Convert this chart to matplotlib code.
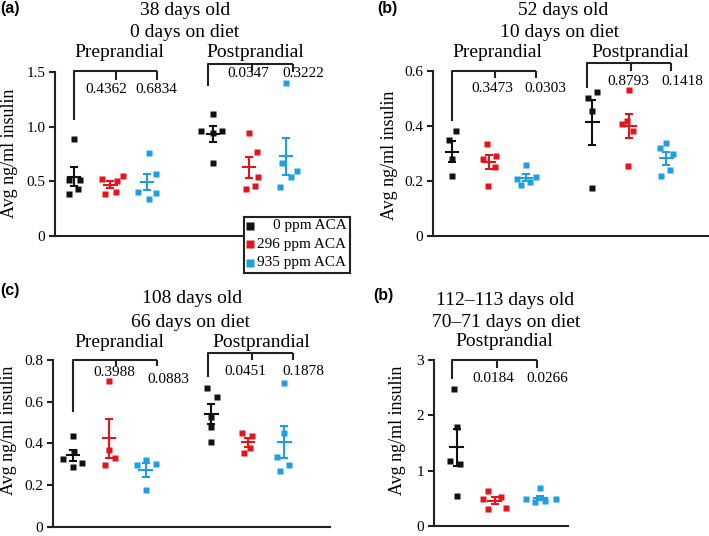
import numpy as np
import matplotlib.pyplot as plt

plt.rcParams['font.family'] = ['Liberation Serif', 'DejaVu Serif']

W, H = 709, 536

groups = ['0 ppm ACA', '296 ppm ACA', '935 ppm ACA']
colors = ['#111111', '#e3141c', '#1e9fe3']

# panel (a): 38 days old, 0 days on diet
a_pre = [[0.89, 0.51, 0.51, 0.43, 0.38],
         [0.52, 0.38, 0.40, 0.50, 0.55],
         [0.405, 0.756, 0.341, 0.396, 0.567]]
a_post = [[0.96, 1.12, 0.67, 0.96, 0.94],
          [0.939, 0.765, 0.543, 0.433, 0.457],
          [1.396, 0.665, 0.591, 0.537, 0.451]]
a_pvals = ['0.4362', '0.6834', '0.0347', '0.3222']

# panel (b): 52 days old, 10 days on diet
b_pre = [[0.349, 0.382, 0.279, 0.219],
         [0.335, 0.292, 0.279, 0.252, 0.182],
         [0.259, 0.207, 0.185, 0.198, 0.213]]
b_post = [[0.503, 0.522, 0.455, 0.173],
          [0.531, 0.407, 0.42, 0.382, 0.256],
          [0.339, 0.321, 0.298, 0.24, 0.218]]
b_pvals = ['0.3473', '0.0303', '0.8793', '0.1418']

# panel (c): 108 days old, 66 days on diet
c_pre = [[0.437, 0.326, 0.288, 0.307, 0.36],
         [0.70, 0.368, 0.331, 0.296],
         [0.32, 0.294, 0.299, 0.176]]
c_post = [[0.664, 0.624, 0.528, 0.48, 0.405],
          [0.451, 0.437, 0.355, 0.376],
          [0.691, 0.448, 0.336, 0.294, 0.269]]
c_pvals = ['0.3988', '0.0883', '0.0451', '0.1878']

# panel (d): 112-113 days old, postprandial only
d_post = [[2.476, 1.783, 1.18, 1.114, 0.542],
          [0.632, 0.482, 0.53, 0.307, 0.33],
          [0.68, 0.482, 0.44, 0.45, 0.482]]
d_pvals = ['0.0184', '0.0266']

# horizontal scatter of the points (x offsets, same order as values)
a_pre_jit = [[0, -0.14, 0.16, 0.12, -0.14], [-0.23, -0.14, 0.16, 0.18, 0.35], [-0.25, 0.05, 0.05, 0.25, 0.26]]
a_post_jit = [[-0.32, 0, 0, 0.26, 0], [0, 0.2, 0.25, -0.1, 0.16], [0, -0.09, 0.3, 0.14, -0.16]]
b_pre_jit = [[-0.09, 0.11, 0, 0], [-0.05, 0.2, -0.15, 0.16, -0.03], [0, -0.24, -0.13, 0.12, 0.27]]
b_post_jit = [[-0.12, 0.12, 0, 0], [0, -0.2, -0.07, 0.09, -0.05], [0, -0.18, 0.18, 0.09, -0.16]]
c_pre_jit = [[0, -0.27, 0, 0.26, 0.04], [0, 0, 0.17, -0.11], [0, -0.25, 0.28, 0]]
c_post_jit = [[-0.11, 0.16, 0, 0, 0], [-0.15, 0.1, -0.11, 0.07], [0, 0, -0.19, 0.13, -0.12]]
d_post_jit = [[-0.06, 0, -0.18, 0.09, 0], [-0.18, -0.31, 0.17, -0.18, 0.3], [0, -0.37, -0.15, 0.13, 0.41]]

INK = '#222222'


def fx(x):
    return x / W


def fy(y):
    return 1 - y / H


def make_axes(left, top, right, bottom, ylim, yticks, yticklabels, xlim):
    ax = fig.add_axes([fx(left), fy(bottom), fx(right - left), (bottom - top) / H])
    ax.set_xlim(xlim)
    ax.set_ylim(ylim)
    for s in ['top', 'right']:
        ax.spines[s].set_visible(False)
    for s in ['left', 'bottom']:
        ax.spines[s].set_linewidth(1.5)
        ax.spines[s].set_color(INK)
    ax.set_xticks([])
    ax.set_yticks(yticks)
    ax.set_yticklabels(yticklabels)
    ax.tick_params(axis='y', length=4, width=1.5, color=INK, labelsize=11, pad=3)
    ax.patch.set_alpha(0)
    return ax


def scatter_groups(ax, data, jit, positions):
    for vals, off, pos, col in zip(data, jit, positions, colors):
        vals = np.array(vals)
        xs = pos + np.array(off)
        ax.plot(xs, vals, 's', ms=4.4, color=col, mec='none', clip_on=False, zorder=3)
        m = vals.mean()
        sem = vals.std(ddof=1) / np.sqrt(len(vals))
        ax.errorbar(pos, m, yerr=sem, fmt='none', ecolor=col, elinewidth=1.5,
                    capsize=2.6, capthick=1.5, zorder=4)
        ax.plot([pos - 0.17, pos + 0.17], [m, m], color=col, lw=1.5, zorder=4)


def bracket(ax, x0, top, low, ticks, tick_low):
    kw = dict(color=INK, lw=1.5, clip_on=False, solid_capstyle='butt')
    ax.plot([x0, x0, ticks[-1]], [low, top, top], **kw)
    for t in ticks:
        ax.plot([t, t], [top, tick_low], **kw)


def pval(ax, x, y, s):
    ax.text(x, y, s, ha='center', va='baseline', fontsize=11, clip_on=False)


def ftext(x, y, s, size=14, **kw):
    fig.text(fx(x), fy(y), s, ha='center', va='baseline', fontsize=size, **kw)


def ylabel(x, y):
    fig.text(fx(x), fy(y), 'Avg ng/ml insulin', rotation=90, ha='center', va='center', fontsize=13)


def panel_label(x, y, s):
    fig.text(fx(x), fy(y), s, ha='left', va='top', fontsize=11.5, fontweight='bold',
             family=['Liberation Sans', 'DejaVu Sans'])


fig = plt.figure(figsize=(W / 100, H / 100), dpi=100)

pre_pos = [1, 2, 3]
post_pos = [4.8, 5.8, 6.8]

# ---- (a)
ax = make_axes(55, 72, 350, 236, (0, 1.5), [0, 0.5, 1.0, 1.5], ['0', '0.5', '1.0', '1.5'], (0.48, 8.56))
scatter_groups(ax, a_pre, a_pre_jit, pre_pos)
scatter_groups(ax, a_post, a_post_jit, post_pos)
bracket(ax, 1.0, 1.51, 1.06, [2.15, 3.27], 1.43)
bracket(ax, 4.67, 1.57, 1.37, [5.88, 7.0], 1.50)
pval(ax, 1.88, 1.305, a_pvals[0])
pval(ax, 3.25, 1.305, a_pvals[1])
pval(ax, 5.77, 1.451, a_pvals[2])
pval(ax, 7.27, 1.451, a_pvals[3])
ftext(185, 15, '38 days old')
ftext(185, 36.7, '0 days on diet')
ftext(119, 56.7, 'Preprandial')
ftext(255, 56.7, 'Postprandial')
ylabel(10, 153)
panel_label(0, 1, '(a)')

# legend box
lax = fig.add_axes([fx(244), fy(273), fx(106), 56 / H])
lax.set_xticks([])
lax.set_yticks([])
lax.set_xlim(0, 1)
lax.set_ylim(0, 1)
for s in lax.spines.values():
    s.set_linewidth(1.5)
    s.set_color(INK)
for yy, name, col in zip([0.84, 0.51, 0.18], groups, colors):
    lax.plot([0.06], [yy], 's', ms=5.5, color=col, mec='none')
    lax.text(0.965, yy, name, ha='right', va='center', fontsize=11)

# ---- (b)
ax = make_axes(433, 71, 709, 236, (0, 0.6), [0, 0.2, 0.4, 0.6], ['0', '0.2', '0.4', '0.6'], (0.49, 7.95))
scatter_groups(ax, b_pre, b_pre_jit, pre_pos)
scatter_groups(ax, b_post, b_post_jit, post_pos)
bracket(ax, 1.0, 0.60, 0.42, [2.17, 3.27], 0.575)
bracket(ax, 4.65, 0.628, 0.54, [5.85, 6.93], 0.60)
pval(ax, 2.08, 0.522, b_pvals[0])
pval(ax, 3.52, 0.522, b_pvals[1])
pval(ax, 5.76, 0.55, b_pvals[2])
pval(ax, 7.22, 0.55, b_pvals[3])
ftext(563, 15, '52 days old')
ftext(560, 36.7, '10 days on diet')
ftext(497.7, 56.7, 'Preprandial')
ftext(640, 56.7, 'Postprandial')
ylabel(389, 155)
panel_label(377, 1, '(b)')

# ---- (c)
ax = make_axes(53, 360, 330, 526.7, (0, 0.8), [0, 0.2, 0.4, 0.6, 0.8], ['0', '0.2', '0.4', '0.6', '0.8'], (0.46, 8.05))
scatter_groups(ax, c_pre, c_pre_jit, pre_pos)
scatter_groups(ax, c_post, c_post_jit, post_pos)
bracket(ax, 1.0, 0.80, 0.552, [2.19, 3.32], 0.77)
bracket(ax, 4.71, 0.832, 0.717, [5.9, 7.03], 0.80)
pval(ax, 2.13, 0.725, c_pvals[0])
pval(ax, 3.61, 0.688, c_pvals[1])
pval(ax, 5.72, 0.728, c_pvals[2])
pval(ax, 7.32, 0.728, c_pvals[3])
ftext(191.7, 303.3, '108 days old')
ftext(190, 326.7, '66 days on diet')
ftext(119, 346.7, 'Preprandial')
ftext(261, 346.7, 'Postprandial')
ylabel(9, 430)
panel_label(0, 283, '(c)')

# ---- (b) lower right
ax = make_axes(434, 360, 568, 526, (0, 3), [0, 1, 2, 3], ['0', '1', '2', '3'], (0.4, 3.93))
scatter_groups(ax, d_post, d_post_jit, [1, 2, 3.2])
bracket(ax, 0.88, 3.0, 2.65, [2.05, 3.12], 2.85)
pval(ax, 1.96, 2.6, d_pvals[0])
pval(ax, 3.39, 2.6, d_pvals[1])
ftext(505, 305, '112\u2013113 days old')
ftext(505.7, 327, '70\u201371 days on diet')
ftext(504, 346, 'Postprandial')
ylabel(398, 430)
panel_label(373, 288, '(b)')

fig.savefig('out.png', dpi=100)
